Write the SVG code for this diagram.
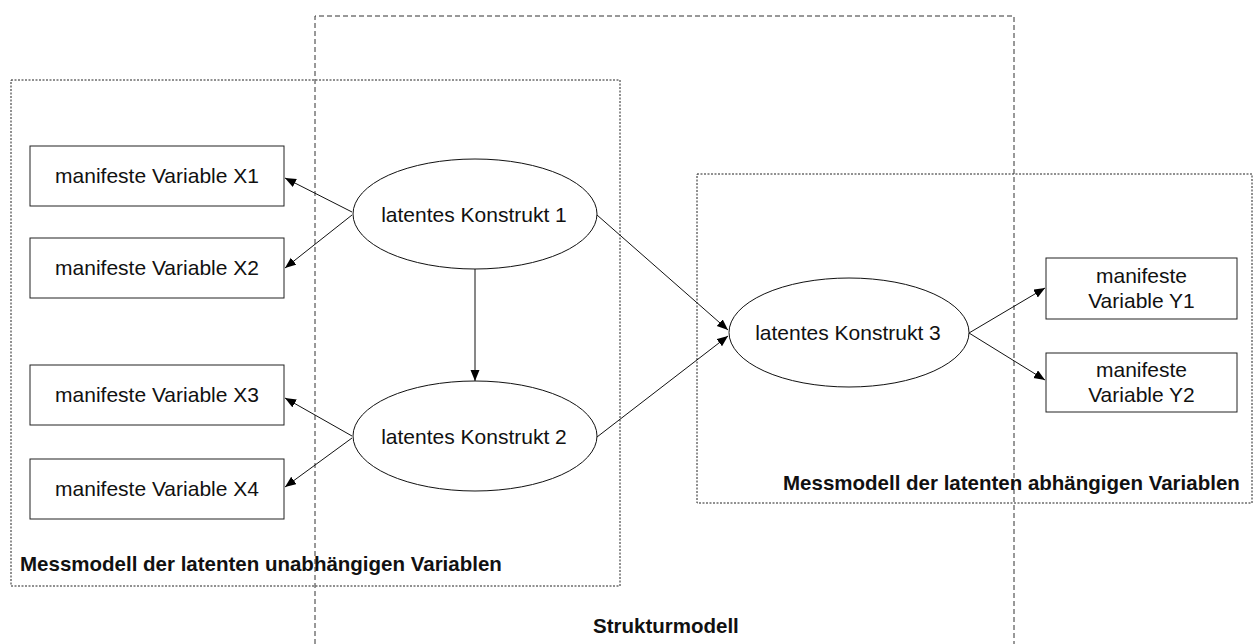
<svg xmlns="http://www.w3.org/2000/svg" width="1259" height="644" viewBox="0 0 1259 644">
  <style>
    .frame-s { fill: none; stroke: #333; stroke-width: 1; stroke-dasharray: 5 3; }
    .frame-m { fill: none; stroke: #222; stroke-width: 1; stroke-dasharray: 2 1.5; }
    .box { fill: #fff; stroke: #222; stroke-width: 1; }
    .ell { fill: #fff; stroke: #111; stroke-width: 1; }
    .t { font-family: "Liberation Sans", Arial, sans-serif; font-size: 21px; fill: #111; text-anchor: middle; }
    .lbl { font-family: "Liberation Sans", Arial, sans-serif; font-size: 20.5px; font-weight: bold; fill: #111; }
    .edge { stroke: #111; stroke-width: 1; fill: none; marker-end: url(#arr); }
  </style>
  <defs>
    <marker id="arr" markerUnits="userSpaceOnUse" markerWidth="12" markerHeight="10" refX="11" refY="4.5" orient="auto">
      <path d="M0,0 L11,4.5 L0,9 Z" fill="#000"/>
    </marker>
  </defs>
  <rect width="1259" height="644" fill="#fff"/>

  <g id="frames">
    <path class="frame-s" d="M315,660 L315,16 L1014,16 L1014,660"/>
    <rect class="frame-m" x="11" y="80" width="609" height="506"/>
    <rect class="frame-m" x="697" y="174" width="555" height="329"/>
  </g>

  <g id="labels">
    <text class="lbl" x="20" y="571">Messmodell der latenten unabhängigen Variablen</text>
    <text class="lbl" x="783" y="490">Messmodell der latenten abhängigen Variablen</text>
    <text class="lbl" x="593" y="633">Strukturmodell</text>
  </g>

  <g id="connectors">
    <line class="edge" x1="352" y1="212" x2="285" y2="178"/>
    <line class="edge" x1="352" y1="215" x2="285" y2="268"/>
    <line class="edge" x1="352" y1="436" x2="285" y2="398"/>
    <line class="edge" x1="352" y1="438" x2="285" y2="487"/>
    <line class="edge" x1="475" y1="269" x2="475" y2="381"/>
    <line class="edge" x1="597" y1="215" x2="728" y2="330"/>
    <line class="edge" x1="597" y1="437" x2="728" y2="336"/>
    <line class="edge" x1="969" y1="333" x2="1045" y2="288"/>
    <line class="edge" x1="969" y1="333" x2="1045" y2="380"/>
  </g>

  <g id="x1"><rect class="box" x="30" y="146" width="254" height="60"/><text class="t" x="157" y="183">manifeste Variable X1</text></g>
  <g id="x2"><rect class="box" x="30" y="238" width="254" height="60"/><text class="t" x="157" y="275">manifeste Variable X2</text></g>
  <g id="x3"><rect class="box" x="30" y="365" width="254" height="60"/><text class="t" x="157" y="402">manifeste Variable X3</text></g>
  <g id="x4"><rect class="box" x="30" y="459" width="254" height="60"/><text class="t" x="157" y="496">manifeste Variable X4</text></g>

  <g id="k1"><ellipse class="ell" cx="475" cy="214" rx="122" ry="55"/><text class="t" x="474" y="222">latentes Konstrukt 1</text></g>
  <g id="k2"><ellipse class="ell" cx="475" cy="436" rx="122" ry="55"/><text class="t" x="474" y="444">latentes Konstrukt 2</text></g>
  <g id="k3"><ellipse class="ell" cx="849" cy="332.5" rx="120" ry="54.5"/><text class="t" x="848" y="340">latentes Konstrukt 3</text></g>

  <g id="y1"><rect class="box" x="1046" y="258" width="191" height="61"/><text class="t" x="1141.5" y="283">manifeste</text><text class="t" x="1141.5" y="308">Variable Y1</text></g>
  <g id="y2"><rect class="box" x="1046" y="353" width="191" height="59"/><text class="t" x="1141.5" y="377">manifeste</text><text class="t" x="1141.5" y="402">Variable Y2</text></g>
</svg>
